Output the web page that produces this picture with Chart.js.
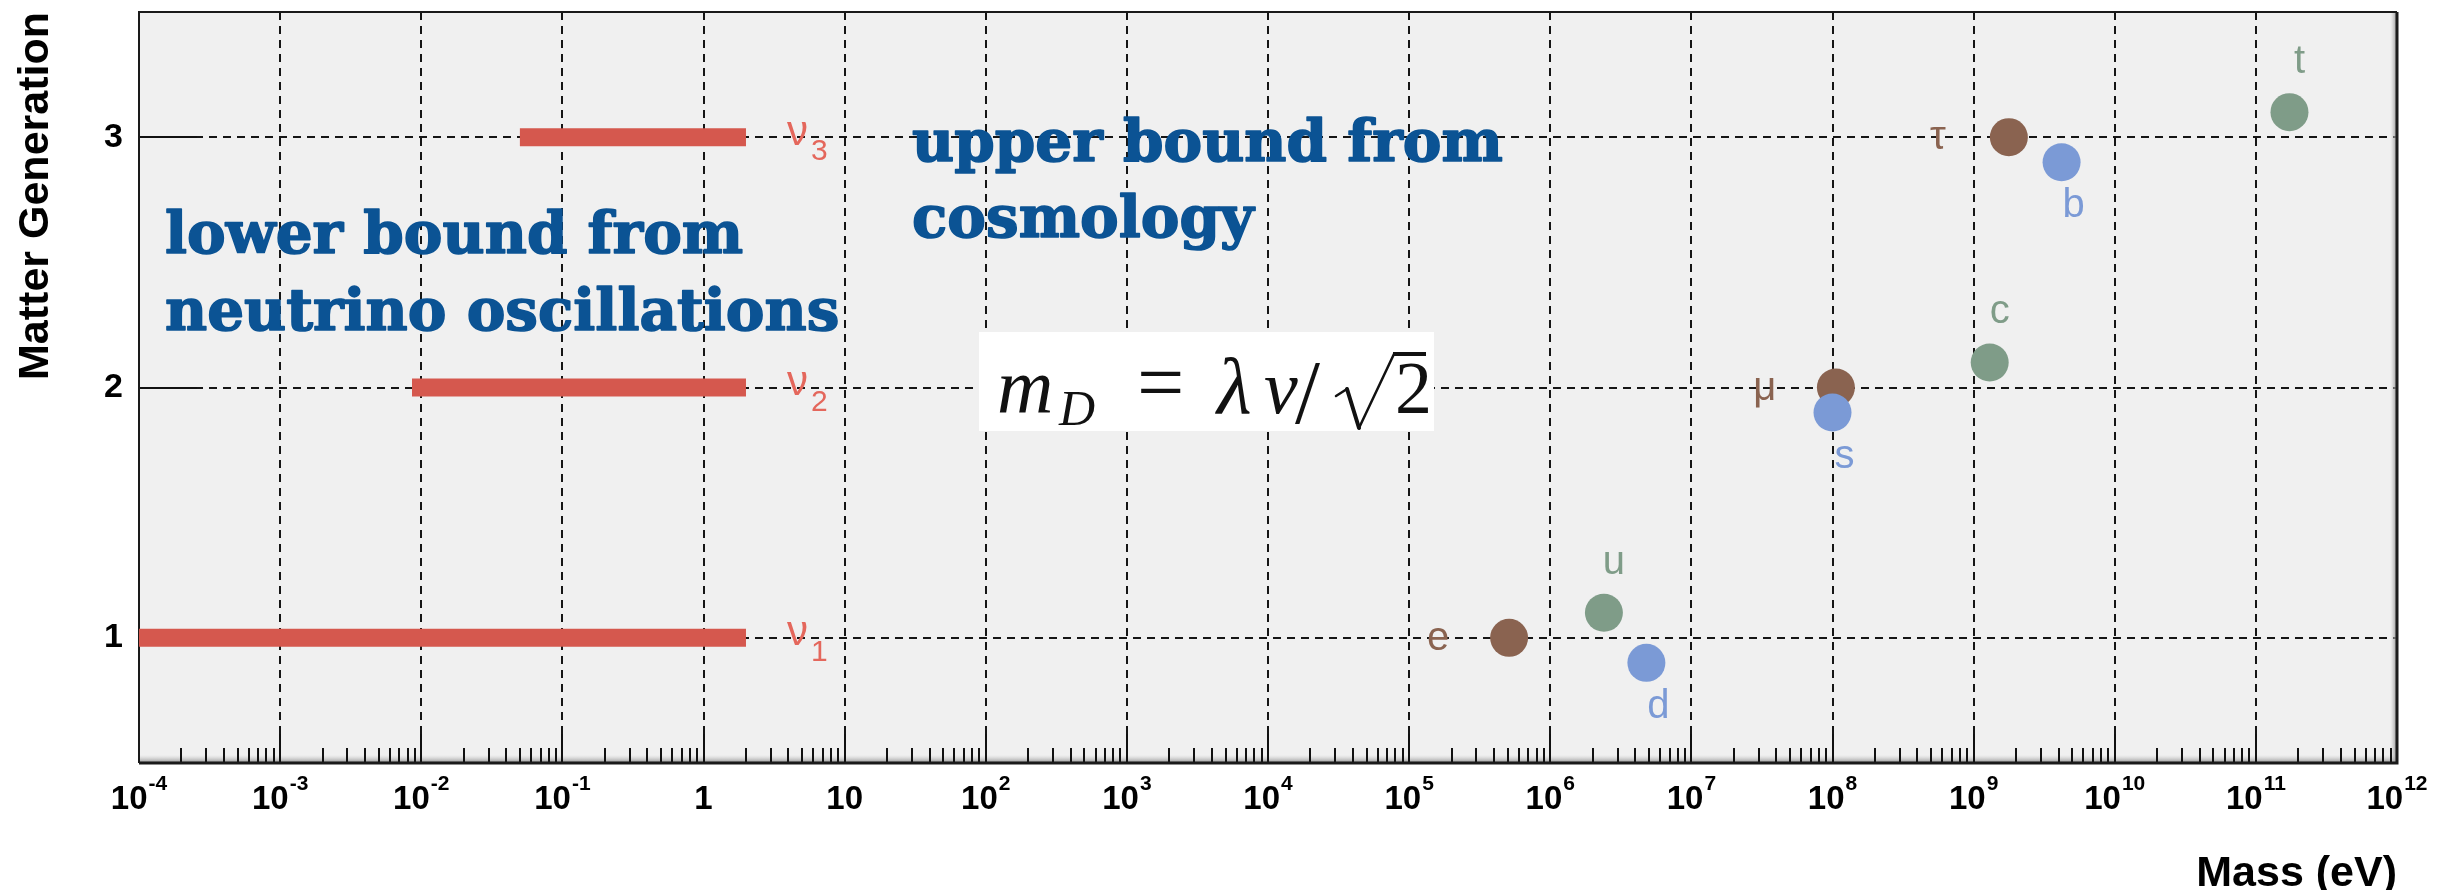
<!DOCTYPE html>
<html>
<head>
<meta charset="utf-8">
<script src="https://cdn.jsdelivr.net/npm/chart.js"></script>
<style>
  html, body { margin: 0; padding: 0; background: #ffffff; }
  canvas { display: block; }
</style>
</head>
<body>
<canvas id="massChart" width="2457" height="890"></canvas>
<script>
// neutrino mass ranges (eV) per generation
const nuLabels = ['1', '2', '3'];
const nuGen = [1, 2, 3];
const nuMin = [0.0001, 0.0086, 0.05];
const nuMax = [2, 2, 2];

// charged fermions: mass (eV) and generation (offset a bit for up / down types)
const particleNames = ['e', 'μ', 'τ', 'u', 'c', 't', 'd', 's', 'b'];
const particleFamily = ['lepton', 'lepton', 'lepton', 'up', 'up', 'up', 'down', 'down', 'down'];
const particleMass = [5.11e5, 1.057e8, 1.777e9, 2.4e6, 1.3e9, 1.73e11, 4.8e6, 1.0e8, 4.2e9];
const particleGen = [1, 2, 3, 1.1, 2.1, 3.1, 0.9, 1.9, 2.9];

// axis ticks
const decades = [-4, -3, -2, -1, 0, 1, 2, 3, 4, 5, 6, 7, 8, 9, 10, 11, 12];
const genTicks = [1, 2, 3];

// couleurs
const familyColor = { lepton: '#8a6350', up: '#7f9c88', down: '#7b9ad6' };
const labelPlace = { lepton: 'left', up: 'above', down: 'below' };
const barColor = '#d5584e';
const nuColor = '#e4675c';
const noteColor = '#0b5394';
const gridColor = '#151515';

function isDecade(v) {
    const l = Math.log10(v);
    return Math.abs(l - Math.round(l)) < 1e-9;
}

// datasets
const datasets = [];
nuGen.forEach((g, i) => {
    datasets.push({
        label: 'nu' + nuLabels[i],
        data: [{ x: nuMin[i], y: g }, { x: nuMax[i], y: g }],
        showLine: true,
        borderColor: barColor,
        borderWidth: 18,
        borderCapStyle: 'butt',
        pointRadius: 0
    });
});
datasets.push({
    label: 'fermions',
    data: particleMass.map((m, i) => ({ x: m, y: particleGen[i] })),
    pointRadius: 19,
    pointBackgroundColor: particleFamily.map(f => familyColor[f]),
    pointBorderWidth: 0,
    borderWidth: 0
});

function boldText(ctx, txt, x, y) {
    ctx.strokeText(txt, x, y);
    ctx.fillText(txt, x, y);
}

// fond, encadré et textes
const decorPlugin = {
    id: 'decor',
    beforeDraw(chart) {
        const { ctx, chartArea: a } = chart;
        ctx.save();
        ctx.fillStyle = '#ffffff';
        ctx.fillRect(0, 0, chart.width, chart.height);
        ctx.fillStyle = '#f0f0f0';
        ctx.fillRect(a.left, a.top, a.right - a.left, a.bottom - a.top);
        ctx.restore();
    },
    beforeDatasetsDraw(chart) {
        const { ctx, chartArea: a } = chart;
        const xs = chart.scales.x, ys = chart.scales.y;
        ctx.save();

        // ombre du cadre
        let g = ctx.createLinearGradient(0, a.bottom - 8, 0, a.bottom);
        g.addColorStop(0, 'rgba(200,200,200,0)');
        g.addColorStop(1, '#8c8c8c');
        ctx.fillStyle = g;
        ctx.fillRect(a.left, a.bottom - 8, a.right - a.left, 8);
        g = ctx.createLinearGradient(a.right - 7, 0, a.right, 0);
        g.addColorStop(0, 'rgba(200,200,200,0)');
        g.addColorStop(1, '#8c8c8c');
        ctx.fillStyle = g;
        ctx.fillRect(a.right - 7, a.top, 7, a.bottom - a.top);

        // graduations
        ctx.lineWidth = 2;
        ctx.strokeStyle = '#111111';
        ctx.beginPath();
        xs.ticks.forEach(t => {
            const px = Math.round(xs.getPixelForValue(t.value));
            const len = isDecade(t.value) ? 29 : 15;
            ctx.moveTo(px, a.bottom);
            ctx.lineTo(px, a.bottom - len);
        });
        ys.ticks.forEach(t => {
            const py = Math.round(ys.getPixelForValue(t.value));
            ctx.moveTo(a.left, py);
            ctx.lineTo(a.left + 58, py);
        });
        ctx.stroke();

        // cadre
        ctx.strokeStyle = '#1a1a1a';
        ctx.lineWidth = 2;
        ctx.beginPath();
        ctx.moveTo(a.left, a.bottom);
        ctx.lineTo(a.left, a.top);
        ctx.lineTo(a.right, a.top);
        ctx.stroke();
        ctx.lineWidth = 3;
        ctx.beginPath();
        ctx.moveTo(a.left, a.bottom);
        ctx.lineTo(a.right, a.bottom);
        ctx.lineTo(a.right, a.top);
        ctx.stroke();

        // annotations
        ctx.fillStyle = noteColor;
        ctx.strokeStyle = noteColor;
        ctx.lineWidth = 1.6;
        ctx.lineJoin = 'round';
        ctx.font = 'bold 58px "DejaVu Serif"';
        ctx.textAlign = 'left';
        ctx.textBaseline = 'alphabetic';
        boldText(ctx, 'lower bound from', a.left + 26, a.top + 241);
        boldText(ctx, 'neutrino oscillations', a.left + 26, a.top + 318);
        boldText(ctx, 'upper bound from', a.left + 773, a.top + 149);
        boldText(ctx, 'cosmology', a.left + 773, a.top + 225);

        // formule m_D = λv/√2
        const bx = a.left + 840, by = a.top + 320;
        ctx.fillStyle = '#ffffff';
        ctx.fillRect(bx, by, 455, 99);
        ctx.fillStyle = '#111111';
        ctx.strokeStyle = '#111111';
        const base = by + 81;
        ctx.font = 'italic 78px "Liberation Serif"';
        ctx.fillText('m', bx + 18, base);
        ctx.font = 'italic 50px "Liberation Serif"';
        ctx.fillText('D', bx + 80, base + 12);
        ctx.font = '84px "Liberation Serif"';
        ctx.fillText('=', bx + 158, base - 2);
        ctx.font = 'italic 80px "Liberation Serif"';
        ctx.fillText('λ', bx + 238, base);
        ctx.font = 'italic 76px "Liberation Serif"';
        ctx.fillText('v', bx + 285, base);
        ctx.font = '90px "Liberation Serif"';
        ctx.fillText('/', bx + 316, base + 10);
        ctx.font = '74px "Liberation Serif"';
        ctx.fillText('2', bx + 416, base);
        ctx.lineCap = 'round';
        ctx.lineWidth = 2.5;
        ctx.beginPath();
        ctx.moveTo(bx + 357, by + 64);
        ctx.lineTo(bx + 368, by + 57);
        ctx.stroke();
        ctx.lineWidth = 4;
        ctx.beginPath();
        ctx.moveTo(bx + 368, by + 57);
        ctx.lineTo(bx + 380, by + 96);
        ctx.stroke();
        ctx.lineWidth = 2.5;
        ctx.beginPath();
        ctx.moveTo(bx + 380, by + 96);
        ctx.lineTo(bx + 415, by + 22);
        ctx.stroke();
        ctx.fillRect(bx + 414, by + 20, 33, 4);
        ctx.restore();
    },
    afterDatasetsDraw(chart) {
        const { ctx } = chart;
        const xs = chart.scales.x, ys = chart.scales.y;
        ctx.save();
        // labels des neutrinos
        nuGen.forEach((g, i) => {
            const px = xs.getPixelForValue(nuMax[i]) + 41;
            const py = ys.getPixelForValue(g);
            ctx.fillStyle = nuColor;
            ctx.textAlign = 'left';
            ctx.textBaseline = 'middle';
            ctx.font = '42px "Liberation Sans"';
            ctx.fillText('ν', px, py - 4);
            const w = ctx.measureText('ν').width;
            ctx.font = '30px "Liberation Sans"';
            ctx.fillText(nuLabels[i], px + w + 3, py + 15);
        });
        // labels des fermions
        const meta = chart.getDatasetMeta(datasets.length - 1);
        ctx.font = '40px "Liberation Sans"';
        ctx.textAlign = 'center';
        ctx.textBaseline = 'middle';
        particleNames.forEach((n, i) => {
            const p = meta.data[i];
            const place = labelPlace[particleFamily[i]];
            let dx = 0, dy = 0;
            if (place === 'left') { dx = -71; dy = 1; }
            if (place === 'above') { dx = 10; dy = -50; }
            if (place === 'below') { dx = 12; dy = 44; }
            ctx.fillStyle = familyColor[particleFamily[i]];
            ctx.fillText(n, p.x + dx, p.y + dy);
        });
        ctx.restore();
    },
    afterDraw(chart) {
        // labels 10^n de l'axe des masses
        const { ctx, chartArea: a } = chart;
        const xs = chart.scales.x;
        ctx.save();
        ctx.fillStyle = '#000000';
        ctx.textAlign = 'left';
        ctx.textBaseline = 'alphabetic';
        xs.ticks.filter(t => isDecade(t.value)).forEach(t => {
            const e = Math.round(Math.log10(t.value));
            const px = xs.getPixelForValue(t.value);
            const y = a.bottom + 46;
            let main = '10', ex = String(e);
            if (e === 0) { main = '1'; ex = ''; }
            if (e === 1) { ex = ''; }
            ctx.font = 'bold 33px "Liberation Sans"';
            const w1 = ctx.measureText(main).width;
            ctx.font = 'bold 21px "Liberation Sans"';
            const w2 = ex ? ctx.measureText(ex).width + 1 : 0;
            const x0 = px - (w1 + w2) / 2;
            ctx.font = 'bold 33px "Liberation Sans"';
            ctx.fillText(main, x0, y);
            if (ex) {
                ctx.font = 'bold 21px "Liberation Sans"';
                ctx.fillText(ex, x0 + w1 + 1, y - 19);
            }
        });
        ctx.restore();
    }
};

new Chart(document.getElementById('massChart'), {
    type: 'scatter',
    data: { datasets: datasets },
    options: {
        responsive: false,
        animation: false,
        events: [],
        layout: { autoPadding: false, padding: { left: 0, top: 12, right: 60, bottom: 0 } },
        plugins: {
            legend: { display: false },
            tooltip: { enabled: false }
        },
        scales: {
            x: {
                type: 'logarithmic',
                min: 1e-4,
                max: 1e12,
                afterBuildTicks: scale => {
                    const t = [];
                    decades.forEach(e => {
                        t.push({ value: Math.pow(10, e) });
                        if (e < 12) {
                            for (let k = 2; k <= 9; k++) t.push({ value: k * Math.pow(10, e) });
                        }
                    });
                    scale.ticks = t;
                },
                afterFit: scale => {
                    scale.height = 127;
                    scale.paddingLeft = 0;
                    scale.paddingRight = 0;
                },
                border: { display: false, dash: [8, 6] },
                grid: {
                    drawTicks: false,
                    color: c => (c.tick && isDecade(c.tick.value)) ? gridColor : 'rgba(0,0,0,0)',
                    lineWidth: 2
                },
                ticks: {
                    display: false,
                    autoSkip: false,
                    maxRotation: 0,
                    minRotation: 0
                },
                title: {
                    display: true,
                    text: 'Mass (eV)',
                    align: 'end',
                    color: '#000000',
                    font: { family: '"Liberation Sans"', size: 43, weight: 'bold', lineHeight: 0.75 },
                    padding: { top: 0, bottom: 0 }
                }
            },
            y: {
                min: 0.5,
                max: 3.5,
                afterBuildTicks: scale => { scale.ticks = genTicks.map(v => ({ value: v })); },
                afterFit: scale => {
                    scale.width = 139;
                    scale.paddingTop = 0;
                    scale.paddingBottom = 0;
                },
                border: { display: false, dash: [8, 6] },
                grid: {
                    drawTicks: false,
                    color: gridColor,
                    lineWidth: 2
                },
                ticks: {
                    padding: 16,
                    color: '#000000',
                    font: { family: '"Liberation Sans"', size: 34, weight: 'bold' }
                },
                title: {
                    display: true,
                    text: 'Matter Generation',
                    align: 'end',
                    color: '#000000',
                    font: { family: '"Liberation Sans"', size: 43, weight: 'bold', lineHeight: 1 },
                    padding: { top: 15, bottom: 0 }
                }
            }
        }
    },
    plugins: [decorPlugin]
});
</script>
</body>
</html>
